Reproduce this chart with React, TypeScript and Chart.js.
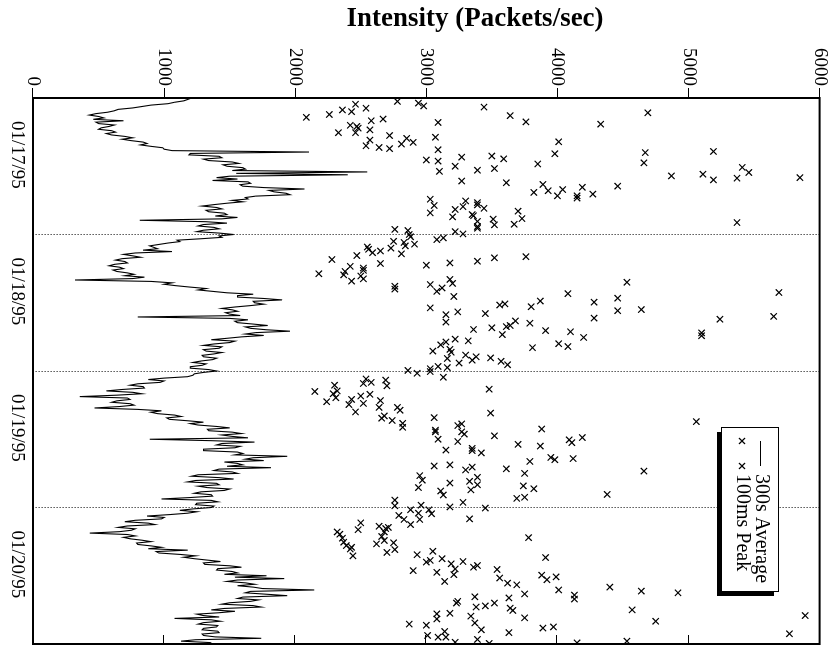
import React, { useEffect, useRef } from "react";
import { Chart, registerables } from "chart.js";

Chart.register(...registerables);

const FONT = "'Liberation Serif', 'Times New Roman', serif";

// ---------- data ----------
const titleText = "Intensity (Packets/sec)";
const legendLabels = ["300s Average", "100ms Peak"];
const dateLabels = ["01/17/95", "01/18/95", "01/19/95", "01/20/95"];
const dateLabelHours = [10, 34, 58, 82];
const dayBoundaryHours = [24, 48, 72];
const intensityTicks = [0, 1000, 2000, 3000, 4000, 5000, 6000];
const timeMin = 0;
const timeMax = 96;
const avgStepHours = 0.25;

// 300s average (packets/sec), one reading every quarter hour from 01/17 00:00
const avgValues = [
  1210, 1180, 1150, 1080, 1030, 900, 830, 760, 650, 620, 570, 480, 430, 500, 540, 460,
  690, 480, 500, 620, 580, 520, 500, 600, 630, 560, 600, 700, 760, 680, 750, 840,
  870, 820, 900, 990, 1000, 1060, 2106, 1200, 1190, 1420, 1440, 1300, 1340, 1520, 1570, 1450,
  1480, 1600, 1620, 1520, 2550, 1550, 2400, 1500, 1400, 1560, 1370, 1640, 1660, 1580, 1600, 1760,
  2070, 1800, 1840, 1930, 1960, 1700, 1620, 1640, 1520, 1600, 1480, 1380, 1290, 1400, 1440, 1320,
  1340, 1460, 1480, 1390, 1560, 1440, 815, 1320, 1480, 1300, 1260, 1380, 1420, 1300, 1250, 1420,
  1530, 1420, 1440, 1280, 1100, 1120, 1030, 960, 890, 920, 950, 840, 1060, 780, 690, 760,
  820, 680, 630, 700, 720, 620, 580, 660, 690, 610, 640, 720, 770, 700, 850, 760,
  320, 900, 1060, 1000, 1090, 1200, 1320, 1260, 1370, 1480, 1680, 1560, 1560, 1760, 1900, 1680,
  1690, 1760, 1660, 1540, 1440, 1520, 1560, 1470, 1500, 1580, 800, 1500, 1640, 1540, 1560, 1680,
  1790, 1620, 1660, 1780, 1960, 1700, 1620, 1760, 1590, 1480, 1360, 1540, 1500, 1380, 1300, 1440,
  1420, 1300, 1320, 1440, 1380, 1290, 1300, 1400, 1370, 1280, 1220, 1320, 1290, 1200, 1200, 1340,
  1400, 1300, 1230, 1220, 1180, 1000, 880, 1000, 970, 800, 740, 840, 850, 680, 560, 760,
  830, 640, 357, 720, 740, 640, 600, 740, 770, 660, 470, 800, 980, 900, 950, 1080,
  1130, 1020, 1040, 1180, 1300, 1200, 1260, 1400, 1500, 1330, 1340, 1520, 1590, 1440, 1520, 1640,
  890, 1360, 1690, 1440, 1400, 1580, 1540, 1300, 1300, 1560, 1600, 1540, 1940, 1680, 1620, 1760,
  1460, 1560, 1600, 1480, 1815, 1420, 1380, 1520, 1560, 1260, 1210, 1420, 1530, 1240, 1180, 1400,
  1420, 1260, 1330, 1500, 1460, 1280, 1230, 1360, 1370, 1200, 980, 1360, 1410, 1250, 1240, 1380,
  1360, 1220, 1120, 1250, 1180, 1040, 870, 1000, 980, 780, 700, 880, 930, 720, 650, 780,
  750, 660, 433, 720, 780, 690, 740, 830, 900, 790, 800, 900, 980, 880, 1180, 940,
  960, 1120, 1240, 1150, 1230, 1330, 1430, 1300, 1310, 1500, 1590, 1410, 1400, 1520, 1560, 1460,
  1780, 1540, 1916, 1560, 1480, 1620, 1690, 1560, 1680, 1750, 2145, 1660, 1620, 1780, 1940, 1600,
  1560, 1720, 1660, 1500, 1440, 1680, 1740, 1460, 1360, 1540, 1420, 1250, 1300, 1420, 1080, 1360,
  1430, 1300, 1260, 1410, 1400, 1300, 1290, 1410, 1420, 1290, 1300, 1390, 1740, 1240, 1130, 1350,
  1330,
];

// 100ms peaks: [hour since 01/17 00:00, packets/sec]
const peakPoints: [number, number][] = [
  [3.4, 2085], [2.9, 2260], [2.1, 2360], [2.4, 2430], [1.1, 2460], [1.8, 2540], [0.6, 2780], [0.9, 2940],
  [1.4, 2980], [1.6, 3440], [3.1, 3640], [4.2, 3760], [4.6, 4330], [2.6, 4690], [4.0, 2580], [3.7, 2670],
  [4.3, 3090], [4.8, 2420], [5.0, 2470], [5.3, 2480], [6.1, 2460], [6.1, 2330], [5.6, 2570], [6.6, 2720],
  [6.9, 3070], [7.1, 2850], [8.1, 2810], [7.8, 2900], [7.4, 2570], [8.4, 2540], [8.7, 2640], [8.9, 2720],
  [9.1, 3090], [7.7, 4010], [9.8, 3980], [9.6, 4670], [9.4, 5190], [10.9, 3000], [11.1, 3090], [10.4, 3270],
  [12.0, 3220], [12.9, 3100], [10.2, 3500], [10.7, 3590], [12.4, 3520], [12.7, 3390], [11.6, 3850], [11.4, 4660],
  [14.6, 3270], [14.9, 3610], [13.7, 4870], [13.4, 5110], [14.4, 5190], [14.1, 5370], [12.2, 5410], [13.1, 5460],
  [14.0, 5850], [15.2, 3890], [16.6, 3820], [16.3, 3930], [17.2, 4000], [16.1, 4040], [15.7, 4190], [17.2, 4150],
  [17.6, 4150], [16.9, 4270], [15.5, 4460], [17.8, 3030], [18.9, 3060], [20.2, 3030], [19.6, 3220], [20.9, 3200],
  [18.1, 3300], [19.1, 3280], [18.4, 3390], [18.8, 3390], [19.4, 3440], [20.5, 3350], [20.7, 3360], [21.7, 3390],
  [22.6, 3390], [22.9, 3390], [21.3, 3510], [22.3, 3520], [22.2, 3670], [19.9, 3700], [21.2, 3730], [21.9, 5370],
  [23.1, 2760], [23.3, 2860], [24.0, 2870], [23.5, 3220], [23.9, 3280],
  [25.2, 2750], [24.4, 2880], [25.4, 2830], [26.0, 2840], [25.7, 2910], [24.9, 3080], [24.6, 3130], [26.2, 2550],
  [26.6, 2560], [27.2, 2590], [26.9, 2650], [26.4, 2730], [27.4, 2810], [27.7, 2470], [28.4, 2280], [29.1, 2650],
  [29.4, 3000], [29.0, 3180], [28.7, 3390], [28.1, 3520], [27.9, 3760], [30.9, 2180], [31.1, 2370], [30.5, 2380],
  [29.6, 2420], [29.9, 2520], [30.3, 2520], [31.3, 2500], [31.8, 2520], [32.2, 2430], [33.1, 2760], [33.6, 2760],
  [32.8, 3030], [34.0, 3080], [33.4, 3120], [31.9, 3180], [32.6, 3200], [34.9, 3210], [32.4, 4530], [34.4, 4080],
  [34.2, 5690], [36.9, 3030], [38.1, 3150], [39.4, 3150], [37.6, 3240], [37.9, 3450], [36.4, 3560], [36.2, 3600],
  [36.7, 3800], [35.7, 3870], [35.9, 4280], [35.2, 4460], [37.4, 4460], [37.2, 4640], [38.7, 4280], [38.9, 5240],
  [38.4, 5650], [40.7, 3360], [40.4, 3500], [41.6, 3580], [40.2, 3610], [40.0, 3640], [39.2, 3680], [39.6, 3790],
  [40.9, 3910], [41.1, 4100], [42.1, 4200], [41.3, 5100], [41.8, 5100], [44.5, 3050], [43.4, 3110], [42.9, 3150],
  [42.4, 3220], [42.7, 3320], [44.2, 3180], [44.7, 3190], [45.8, 3160], [47.4, 3160], [47.2, 3090], [46.6, 3250],
  [45.2, 3300], [46.1, 3350], [45.5, 3380], [45.7, 3490], [46.3, 3570], [46.9, 3620], [43.9, 3810], [43.2, 4010],
  [43.7, 4080], [47.9, 2860], [48.4, 2930], [47.6, 3030], [48.1, 3030],
  [49.1, 3130], [51.6, 2150], [53.4, 2240], [50.5, 2300], [52.0, 2290], [51.5, 2320], [52.7, 2310], [53.9, 2410],
  [53.0, 2430], [55.2, 2460], [52.4, 2500], [50.2, 2520], [49.4, 2540], [50.0, 2580], [53.7, 2520], [52.1, 2570],
  [53.2, 2650], [54.4, 2640], [49.6, 2690], [50.6, 2700], [56.3, 2660], [55.9, 2680], [56.7, 2740], [54.4, 2780],
  [54.9, 2800], [57.2, 2820], [57.9, 2820], [51.2, 3480], [55.4, 3490], [56.2, 3060], [58.4, 3070], [58.7, 3070],
  [60.0, 3090], [61.9, 3150], [57.6, 3240], [57.3, 3270], [58.7, 3270], [59.1, 3290], [60.4, 3240], [61.6, 3350],
  [62.0, 3350], [62.4, 3420], [59.4, 3520], [60.9, 3700], [58.2, 3880], [61.2, 3870], [60.1, 4090], [60.6, 4110],
  [59.7, 4190], [56.9, 5060], [64.7, 3060], [64.5, 3180], [65.4, 3300], [64.9, 3350], [65.2, 3610], [66.0, 3750],
  [63.9, 3790], [63.2, 3950], [63.6, 3980], [63.4, 4120], [65.6, 4660], [66.4, 2950], [67.2, 2970], [68.5, 2940],
  [67.7, 3180], [67.4, 3330], [66.7, 3390], [68.0, 3390], [68.9, 3340], [69.1, 3110], [69.8, 3130], [68.2, 3740],
  [68.7, 3820], [70.4, 3690], [70.2, 3750], [69.7, 4380], [70.7, 2760], [71.7, 2760], [71.6, 2960], [72.4, 2880],
  [72.4, 3020], [71.9, 3180], [71.1, 3280], [72.1, 3450],
  [73.4, 2790], [74.1, 2830], [73.0, 2940], [74.1, 2950], [73.1, 3040], [75.0, 2880], [74.0, 3330], [76.3, 2320],
  [76.7, 2340], [77.4, 2360], [78.1, 2370], [78.7, 2390], [79.3, 2420], [79.0, 2430], [80.5, 2440], [75.9, 2480],
  [74.7, 2500], [78.4, 2620], [75.3, 2640], [77.1, 2660], [76.3, 2680], [75.7, 2690], [75.5, 2710], [77.8, 2680],
  [79.9, 2700], [78.2, 2750], [79.4, 2760], [80.3, 2930], [79.7, 3050], [81.6, 3000], [81.3, 3030], [83.1, 2900],
  [83.4, 3080], [81.0, 3120], [85.0, 3140], [81.9, 3190], [83.8, 3210], [82.8, 3220], [81.5, 3280], [82.5, 3360],
  [82.2, 3390], [82.9, 3540], [84.4, 3560], [85.3, 3620], [85.6, 3690], [77.3, 3780], [80.8, 3910], [83.9, 3880],
  [84.7, 3920], [84.2, 3990], [86.5, 4010], [87.2, 3750], [87.4, 4130], [88.1, 4130], [86.0, 4400], [86.7, 4640],
  [87.0, 4920], [88.8, 3230], [88.5, 3240], [87.7, 3370], [89.5, 3380], [89.3, 3450], [88.8, 3520], [87.9, 3630],
  [89.7, 3640], [90.1, 3660], [91.4, 3750], [90.0, 4570], [92.0, 4750], [91.0, 5890], [94.2, 5770], [92.5, 2870],
  [92.7, 3000], [90.7, 3080], [91.6, 3080], [90.6, 3180], [91.1, 3340], [92.3, 3370], [93.5, 3420], [94.5, 3010],
  [94.8, 3090], [93.8, 3140], [94.8, 3150], [95.7, 3220], [95.2, 3390], [95.9, 3480], [94.0, 3630], [93.2, 3890],
  [93.0, 3970], [95.8, 4150], [95.5, 4530],
];

// ---------- geometry of the unrotated canvas ----------
const CW = 653; // becomes the picture's height
const CH = 833; // becomes the picture's width

const decorPlugin = {
  id: "decor",
  afterDatasetsDraw(chart: any) {
    const { ctx, chartArea: a, scales } = chart;
    ctx.save();
    ctx.strokeStyle = "#000";
    ctx.lineWidth = 1;
    // mirrored inward ticks on the far edge
    for (const t of intensityTicks) {
      const y = Math.round(scales.y.getPixelForValue(t)) + 0.5;
      ctx.beginPath();
      ctx.moveTo(a.right - 9, y);
      ctx.lineTo(a.right, y);
      ctx.stroke();
    }
    // frame
    ctx.lineWidth = 2;
    ctx.strokeRect(a.left, a.top, a.right - a.left, a.bottom - a.top);

    // key box with shadow
    const bx = 427, by = 54, bw = 164, bh = 57;
    ctx.fillStyle = "#000";
    ctx.fillRect(bx + 5, by + 5, bw, bh);
    ctx.fillStyle = "#fff";
    ctx.fillRect(bx, by, bw, bh);
    ctx.lineWidth = 1;
    ctx.strokeRect(bx + 0.5, by + 0.5, bw, bh);

    const row1 = 72, row2 = 91;
    ctx.lineWidth = 1;
    ctx.beginPath();
    ctx.moveTo(441, row1 + 0.5);
    ctx.lineTo(466, row1 + 0.5);
    ctx.stroke();
    const cross = (x: number, y: number) => {
      const d = 3;
      ctx.beginPath();
      ctx.moveTo(x - d, y - d);
      ctx.lineTo(x + d, y + d);
      ctx.moveTo(x - d, y + d);
      ctx.lineTo(x + d, y - d);
      ctx.stroke();
    };
    ctx.lineWidth = 1.2;
    cross(441, row2);
    cross(466, row2);
    ctx.fillStyle = "#000";
    ctx.font = `20px ${FONT}`;
    ctx.textAlign = "left";
    ctx.textBaseline = "middle";
    ctx.fillText(legendLabels[0], 474, row1);
    ctx.fillText(legendLabels[1], 474, row2);

    // title (reads left to right once the canvas is turned)
    ctx.translate(19, 358);
    ctx.rotate(-Math.PI / 2);
    ctx.font = `bold 27px ${FONT}`;
    ctx.textAlign = "center";
    ctx.textBaseline = "middle";
    ctx.fillText(titleText, 0, 0);
    ctx.restore();
  },
};

export default function App() {
  const ref = useRef<HTMLCanvasElement | null>(null);

  useEffect(() => {
    if (!ref.current) return;
    document.body.style.margin = "0";
    const avgData = avgValues.map((v, i) => ({ x: timeMin + i * avgStepHours, y: v }));
    const peakData = peakPoints.map(([h, v]) => ({ x: h, y: v }));
    const xTicks = [...dateLabelHours, ...dayBoundaryHours].sort((p, q) => p - q);

    const chart = new Chart(ref.current, {
      type: "scatter",
      data: {
        datasets: [
          {
            label: legendLabels[0],
            data: avgData,
            showLine: true,
            borderColor: "#000",
            backgroundColor: "#000",
            borderWidth: 1.1,
            pointRadius: 0,
            tension: 0,
          },
          {
            label: legendLabels[1],
            data: peakData,
            showLine: false,
            pointStyle: "crossRot",
            pointRadius: 4.5,
            pointBorderWidth: 1.2,
            borderColor: "#000",
            backgroundColor: "#000",
          },
        ],
      },
      options: {
        responsive: false,
        animation: false,
        devicePixelRatio: 1,
        events: [],
        layout: { padding: { top: 11, right: 9, left: 0, bottom: 0 } },
        plugins: {
          legend: { display: false },
          tooltip: { enabled: false },
          title: { display: false },
        },
        scales: {
          x: {
            type: "linear",
            position: "bottom",
            min: timeMin,
            max: timeMax,
            afterBuildTicks: (s: any) => {
              s.ticks = xTicks.map((v) => ({ value: v }));
            },
            afterFit: (s: any) => {
              s.height = 33;
            },
            ticks: {
              autoSkip: false,
              maxRotation: 0,
              minRotation: 0,
              padding: 5,
              color: "#000",
              font: { family: FONT, size: 19 },
              callback: (v: any) => {
                const k = dateLabelHours.indexOf(Number(v));
                return k >= 0 ? dateLabels[k] : "";
              },
            },
            grid: {
              drawTicks: false,
              lineWidth: 1,
              color: (c: any) =>
                c.tick && dayBoundaryHours.includes(c.tick.value) ? "#000" : "rgba(0,0,0,0)",
            },
            border: { display: false, dash: [1, 2] },
          },
          y: {
            type: "linear",
            position: "left",
            min: 0,
            max: 6000,
            afterBuildTicks: (s: any) => {
              s.ticks = intensityTicks.map((v) => ({ value: v }));
            },
            afterFit: (s: any) => {
              s.width = 98;
            },
            ticks: {
              padding: 2,
              color: "#000",
              font: { family: FONT, size: 19 },
              callback: (v: any) => String(v),
            },
            grid: {
              drawOnChartArea: false,
              drawTicks: true,
              tickLength: 10,
              color: "#000",
              lineWidth: 1,
            },
            border: { display: false },
          },
        },
      },
      plugins: [decorPlugin],
    });
    return () => chart.destroy();
  }, []);

  return (
    <div
      style={{
        position: "fixed",
        left: 0,
        top: 0,
        width: CH,
        height: CW,
        overflow: "hidden",
        background: "#fff",
      }}
    >
      <canvas
        ref={ref}
        width={CW}
        height={CH}
        style={{
          position: "absolute",
          left: 0,
          top: 0,
          width: CW,
          height: CH,
          transformOrigin: "0 0",
          transform: `translate(${CH}px, 0px) rotate(90deg)`,
        }}
      />
    </div>
  );
}
